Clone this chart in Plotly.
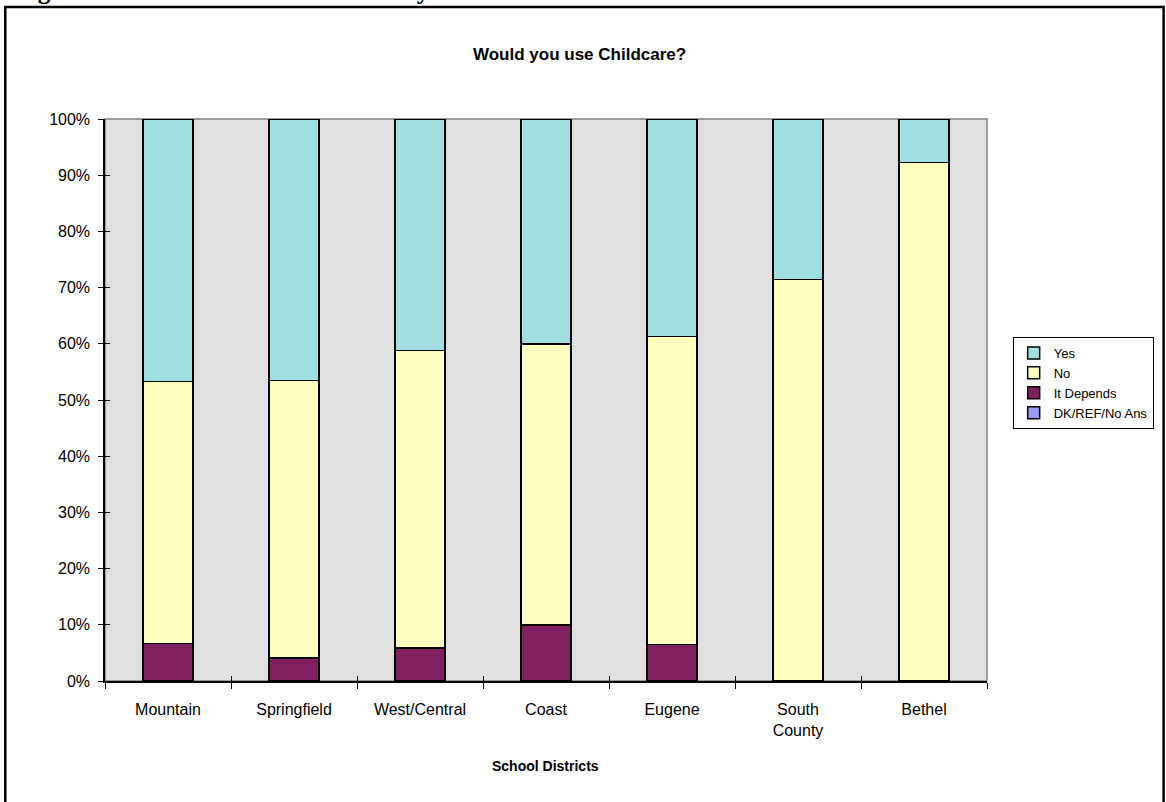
import plotly.graph_objects as go

# School districts surveyed
districts = ["Mountain", "Springfield", "West/Central", "Coast", "Eugene", "South<br>County", "Bethel"]

# Share of responses (%) per district, stacked bottom to top
dk_ref = [0, 0, 0, 0, 0, 0, 0]
it_depends = [6.7, 4.1, 5.9, 10.0, 6.5, 0, 0]
no = [46.6, 49.4, 52.9, 50.0, 54.8, 71.4, 92.3]
yes = [46.7, 46.5, 41.2, 40.0, 38.7, 28.6, 7.7]

y_ticks = [0, 10, 20, 30, 40, 50, 60, 70, 80, 90, 100]
y_tick_labels = ["0%", "10%", "20%", "30%", "40%", "50%", "60%", "70%", "80%", "90%", "100%"]

W, H = 1166, 802
L, R, T, B = 105, 994, 119, 681  # plot-area edges in pixels


def px_x(p):
    return (p - L) / (R - L)


def px_y(p):
    return (B - p) / (B - T)


FONT = "Liberation Sans, Arial, sans-serif"
outline = dict(color="#000000", width=1.5)

fig = go.Figure()
series = [
    ("DK/REF/No Ans", dk_ref, "#9999FF"),
    ("It Depends", it_depends, "#80205F"),
    ("No", no, "#FFFFC0"),
    ("Yes", yes, "#A0E0E0"),
]
for name, vals, color in series:
    fig.add_trace(go.Bar(
        x=districts, y=vals, name=name,
        marker=dict(color=color, line=outline),
        hoverinfo="skip",
    ))

# empty trace that carries the overlay axes drawing the inner half of the cross ticks
fig.add_trace(go.Scatter(x=[], y=[], xaxis="x2", yaxis="y2",
                         showlegend=False, hoverinfo="skip"))

# category boundaries on the x axis
boundaries = [i + 0.5 for i in range(len(districts))]

fig.update_layout(
    width=W, height=H,
    barmode="stack", bargap=0.6,
    margin=dict(l=L, r=W - R, t=T, b=H - B),
    paper_bgcolor="#FFFFFF", plot_bgcolor="#E0E0E0",
    font=dict(family=FONT, size=16, color="#000000"),
    showlegend=True,
    legend=dict(
        traceorder="reversed",
        x=px_x(1162), y=px_y(337), xanchor="right", yanchor="top",
        bgcolor="#FFFFFF", bordercolor="#000000", borderwidth=1,
        font=dict(family=FONT, size=13), tracegroupgap=0,
        itemwidth=30,
    ),
    xaxis=dict(
        type="category", tickson="boundaries",
        ticks="outside", ticklen=6, tickcolor="#000000", tickwidth=1,
        showline=True, linecolor="#000000", linewidth=1.5,
        showgrid=False, zeroline=False,
        tickfont=dict(family=FONT, size=16),
        ticklabelstandoff=13,
        fixedrange=True,
    ),
    xaxis2=dict(
        overlaying="x", side="bottom", anchor="y2",
        range=[-0.5, len(districts) - 0.5], tickvals=boundaries,
        ticks="inside", ticklen=5, tickcolor="#000000", tickwidth=1,
        showticklabels=False, showline=False, showgrid=False, zeroline=False,
        fixedrange=True,
    ),
    yaxis=dict(
        range=[0, 100], tickvals=y_ticks, ticktext=y_tick_labels,
        ticks="outside", ticklen=5, tickcolor="#000000", tickwidth=1,
        showline=True, linecolor="#000000", linewidth=1.5,
        showgrid=False, zeroline=False,
        tickfont=dict(family=FONT, size=16),
        ticklabelstandoff=5,
        fixedrange=True,
    ),
    yaxis2=dict(
        overlaying="y", side="left", anchor="x2",
        range=[0, 100], tickvals=y_ticks,
        ticks="inside", ticklen=5, tickcolor="#000000", tickwidth=1,
        showticklabels=False, showline=False, showgrid=False, zeroline=False,
        fixedrange=True,
    ),
    shapes=[
        # gray frame around the plot area
        dict(type="rect", xref="paper", yref="paper", x0=0, x1=1, y0=0, y1=1,
             line=dict(color="#808080", width=1.5), fillcolor="rgba(0,0,0,0)", layer="below"),
        # black border around the chart area
        dict(type="rect", xref="paper", yref="paper",
             x0=px_x(4.5), x1=px_x(1172), y0=px_y(808), y1=px_y(7),
             line=dict(color="#000000", width=2.5), fillcolor="rgba(0,0,0,0)"),
    ],
    annotations=[
        dict(text="<b>Would you use Childcare?</b>", xref="paper", yref="paper",
             x=px_x(583), y=px_y(55), xanchor="center", yanchor="middle",
             showarrow=False, font=dict(family=FONT, size=17)),
        dict(text="<b>School Districts</b>", xref="paper", yref="paper",
             x=px_x(549), y=px_y(766), xanchor="center", yanchor="middle",
             showarrow=False, font=dict(family=FONT, size=14)),
        dict(text="<b>Figure 11: Use Child Care Availability Resource Centers</b>",
             xref="paper", yref="paper", x=px_x(12), y=px_y(7),
             xanchor="left", yanchor="bottom", showarrow=False,
             font=dict(family="Liberation Serif, Times New Roman, serif", size=25.5)),
    ],
)

fig.write_html("out.html", config={"displayModeBar": False})
